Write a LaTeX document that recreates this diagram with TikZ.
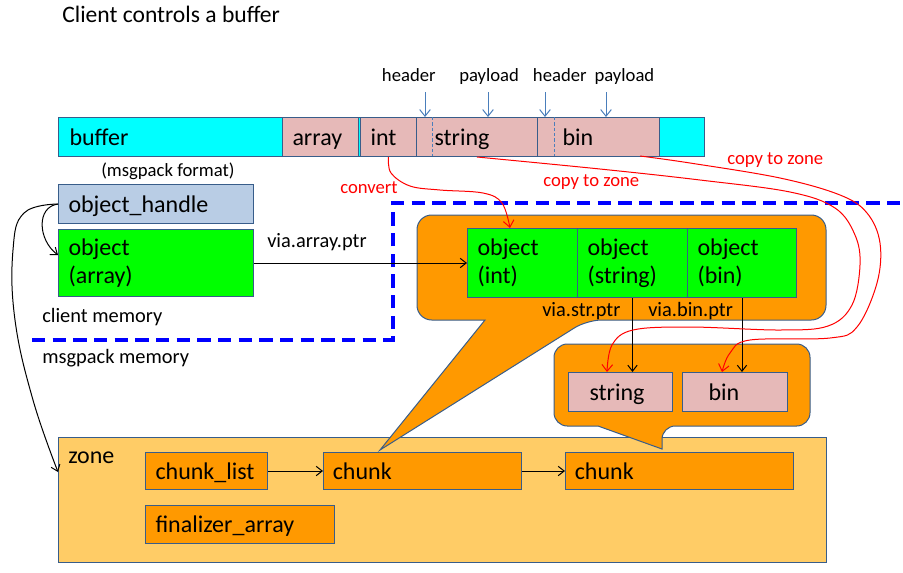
\documentclass[tikz,border=0pt]{standalone}
\usepackage{fontspec}
\setmainfont{Carlito}
\usetikzlibrary{arrows.meta,calc}
\definecolor{bord}{HTML}{385D8A}
\definecolor{cyanb}{HTML}{00FFFF}
\definecolor{pinkb}{HTML}{E6B9B8}
\definecolor{handleb}{HTML}{B9CDE5}
\definecolor{greenb}{HTML}{00FF00}
\definecolor{orangeb}{HTML}{FF9900}
\definecolor{zoneb}{HTML}{FFCC66}
\definecolor{hdrblue}{HTML}{4A7EBB}
\definecolor{redl}{HTML}{FF0000}
\definecolor{memblue}{HTML}{0000FF}
\newcommand\bigf{\fontsize{18}{21}\selectfont}
\newcommand\midf{\fontsize{15.3}{18}\selectfont}
\newcommand\smallf{\fontsize{14}{17}\selectfont}
\newcommand\titlef{\fontsize{17.7}{21}\selectfont}
\begin{document}
\begin{tikzpicture}[x=0.75pt,y=-0.75pt,
  bx/.style={draw=bord, line width=0.75pt, anchor=north west, inner ysep=0pt, align=left, font=\bigf, inner xsep=7.5pt},
  oneline/.style={text height=14.5pt, text depth=2.5pt},
  lbl/.style={anchor=base west, inner sep=0pt},
  arr/.style={line width=0.75pt, -{Straight Barb[length=4.5pt,width=7pt]}},
  harr/.style={draw=hdrblue, line width=0.75pt, -{Straight Barb[length=5pt,width=8pt]}},
  rarr/.style={draw=redl, line width=0.75pt, -{Straight Barb[length=5pt,width=8pt]}},
  callout/.style={fill=orangeb, draw=bord, line width=0.75pt},
  memline/.style={draw=memblue, line width=2.4pt, dash pattern=on 10pt off 5.5pt},
  hdrdash/.style={draw=hdrblue, line width=0.75pt, dash pattern=on 2.5pt off 1.5pt}
]
\useasboundingbox (0,0) rectangle (903,572);

% zone
\node[bx, fill=zoneb, minimum width=576pt, minimum height=93.75pt, inner sep=0pt] (zone) at (58,437) {};

% callouts
\draw[callout] (380,450) -- (485,320) [rounded corners=11pt] -- (417,320) -- (417,215) -- (826,215) -- (826,320) -- (587,320) [sharp corners] -- cycle;
\draw[callout] (662,449) -- (598,426) [rounded corners=10pt] -- (554,426) -- (554,344) -- (810,344) -- (810,426) -- (662,426) [sharp corners] -- cycle;

% buffer
\node[bx, oneline, fill=cyanb, minimum height=29.25pt, text width=468pt, inner xsep=8.25pt] (buffer) at (58,117) {buffer};
\node[bx, oneline, fill=pinkb, minimum height=29.25pt, text width=42pt] (arrb) at (282,117) {array};
\node[bx, oneline, fill=pinkb, minimum height=29.25pt, text width=27pt] (intb) at (360,117) {int};
\node[bx, oneline, fill=pinkb, minimum height=29.25pt, text width=63.75pt, inner xsep=13.5pt] (strb) at (416,117) {string};
\node[bx, oneline, fill=pinkb, minimum height=29.25pt, text width=54pt, inner xsep=18.75pt] (binb) at (537,117) {bin};
\draw[hdrdash] (432,117) -- (432,156);
\draw[hdrdash] (554,117) -- (554,156);

% header / payload labels
\node[lbl, font=\smallf] (h1) at (381.7,81) {header};
\node[lbl, font=\smallf] (p1) at (459,81) {payload};
\node[lbl, font=\smallf] (h2) at (532.7,81) {header};
\node[lbl, font=\smallf] (p2) at (594.3,81) {payload};
\coordinate (ha1) at (425,92);
\coordinate (ha2) at (488,92);
\coordinate (ha3) at (545,92);
\coordinate (ha4) at (606,92);
\draw[harr] (ha1) -- (ha1 |- buffer.north);
\draw[harr] (ha2) -- (ha2 |- buffer.north);
\draw[harr] (ha3) -- (ha3 |- buffer.north);
\draw[harr] (ha4) -- (ha4 |- buffer.north);

% title
\node[lbl, font=\titlef] (title) at (62,22) {Client controls a buffer};
\node[lbl, font=\smallf] (fmt) at (101,176) {(msgpack format)};

% client objects
\node[bx, oneline, fill=handleb, minimum height=29.25pt, text width=131.25pt] (objh) at (58,184) {object\_handle};
\node[bx, fill=greenb, minimum height=50.25pt, text width=131.25pt] (objarr) at (58,229) {object\\(array)};
\node[lbl, font=\midf] (vap) at (267,247) {via.array.ptr};
\node[lbl, font=\midf] (cmem) at (42,322) {client memory};
\node[lbl, font=\midf] (mmem) at (42,363) {msgpack memory};

% memory boundary
\draw[memline] (32,340) -- (393,340) -- (393,203) -- (900,203);

% zone objects
\node[bx, fill=greenb, minimum height=51.75pt, text width=67.5pt] (objint) at (467,228) {object\\(int)};
\node[bx, fill=greenb, minimum height=51.75pt, text width=67.5pt] (objstr) at (577,228) {object\\(string)};
\node[bx, fill=greenb, minimum height=51.75pt, text width=66.75pt] (objbin) at (687,228) {object\\(bin)};
\node[lbl, font=\midf] (vsp) at (542,316) {via.str.ptr};
\node[lbl, font=\midf] (vbp) at (648,316) {via.bin.ptr};
\node[bx, oneline, fill=pinkb, minimum height=29.25pt, text width=46.5pt, inner xsep=15.75pt] (strz) at (568,372) {string};
\node[bx, oneline, fill=pinkb, minimum height=29.25pt, text width=39.75pt, inner xsep=19.5pt] (binz) at (682,372) {bin};

% zone contents
\node[lbl, font=\bigf] (zonelbl) at (68,463) {zone};
\node[bx, oneline, fill=orangeb, minimum height=27.75pt, text width=76.5pt] (chl) at (145,452) {chunk\_list};
\node[bx, oneline, fill=orangeb, minimum height=27.75pt, text width=134.5pt, inner xsep=7pt] (ch1) at (323,452) {chunk};
\node[bx, oneline, fill=orangeb, minimum height=27.75pt, text width=157pt, inner xsep=7pt] (ch2) at (565,452) {chunk};
\node[bx, oneline, fill=orangeb, minimum height=28.5pt, text width=126.75pt] (fin) at (145,505) {finalizer\_array};

% black connectors
\draw[arr] (objarr) -- (objint);
\draw[arr] (chl) -- (ch1);
\draw[arr] (ch1) -- (ch2);
\draw[arr] (objstr.south) -- (objstr.south |- strz.north);
\draw[arr] (objbin.south) -- (objbin.south |- binz.north);
\coordinate (hend) at (58,255);
\coordinate (zin) at (58,472);
\draw[arr] (objh.west) .. controls (36,207) and (38,240) .. (hend);
\draw[arr] plot[smooth, tension=0.7] coordinates {(objh.west) (24,213) (13,250) (15,320) (33,400) (zin)};

% red connectors
\coordinate (cvend) at (510,228);
\coordinate (binst) at (640,156);
\coordinate (strend) at (607,372);
\coordinate (binend) at (722,372);
\draw[rarr] plot[smooth, tension=0.6] coordinates {(intb.south) (391,173) (410,186) (440,190) (483,193) (502,203) (cvend)};
\draw[rarr] plot[smooth, tension=0.6] coordinates {(strb.south) (600,169) (700,180) (790,192) (835,208) (855,235) (860,265) (852,305) (828,326) (780,330) (690,327) (633,330) (612,345) (strend)};
\draw[rarr] plot[smooth, tension=0.6] coordinates {(binst) (690,163) (780,178) (840,195) (867,213) (880,243) (877,283) (857,327) (830,338) (750,340) (730,353) (binend)};
\node[lbl, font=\smallf, text=redl] (cvt) at (340,193) {convert};
\node[lbl, font=\smallf, text=redl] (cpz1) at (543,186) {copy to zone};
\node[lbl, font=\smallf, text=redl] (cpz2) at (727,164) {copy to zone};
\end{tikzpicture}
\end{document}
